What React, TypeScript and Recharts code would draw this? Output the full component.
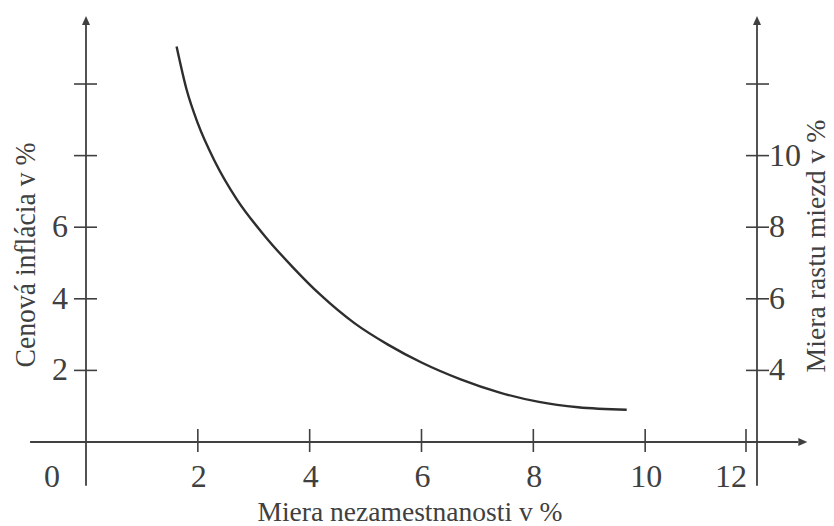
import React from 'react';
import { LineChart, Line, XAxis, YAxis, ReferenceLine } from 'recharts';

// Phillips curve: unemployment (x) vs price inflation (left) / wage growth (right)
const unemployment = [
  1.62, 1.8, 2.0, 2.3, 2.7, 3.2, 3.7, 4.2, 4.8, 5.4, 6.0, 6.7, 7.4, 8.1, 8.8, 9.67,
];
const inflation = [
  11.05, 9.84, 8.9, 7.85, 6.77, 5.75, 4.88, 4.1, 3.32, 2.72, 2.22, 1.75, 1.38, 1.12, 0.97, 0.9,
];

const xTicks = [0, 2, 4, 6, 8, 10, 12];
const inflationTicks = [2, 4, 6, 8, 10];
const inflationLabels = ['2', '4', '6', '', ''];
const wageTicks = [4, 6, 8, 10, 12];
const wageLabels = ['4', '6', '8', '10', ''];

const xTitle = 'Miera nezamestnanosti v %';
const leftTitle = 'Cenová inflácia v %';
const rightTitle = 'Miera rastu miezd v %';

const curve = unemployment.map((u, i) => ({ u, p: inflation[i] }));

const INK = '#404040';
const FONT = 'Liberation Serif';

const AxisArrow = (props: any) => {
  const { x1, y1, x2, y2 } = props;
  const dx = x2 - x1;
  const dy = y2 - y1;
  const len = Math.hypot(dx, dy) || 1;
  const ux = dx / len;
  const uy = dy / len;
  const L = 9;
  const W = 4;
  const bx = x2 - ux * L;
  const by = y2 - uy * L;
  return (
    <g>
      <line x1={x1} y1={y1} x2={bx} y2={by} stroke={INK} strokeWidth={1.8} />
      <polygon
        points={`${x2},${y2} ${bx - uy * W},${by + ux * W} ${bx + uy * W},${by - ux * W}`}
        fill={INK}
      />
    </g>
  );
};

const XTick = ({ x, y, payload }: any) => {
  const v = payload.value;
  const textProps = { fontFamily: FONT, fontSize: 32, fill: INK, textAnchor: 'middle' as const };
  if (v === 0) {
    return <text x={x - 34} y={y + 45} {...textProps}>0</text>;
  }
  // the last tick sits just left of the right-hand axis
  const shift = v === 12 ? -11 : 0;
  const labelShift = v === 12 ? -15 : 1;
  return (
    <g>
      <line x1={x + shift} x2={x + shift} y1={y - 13} y2={y + 10} stroke={INK} strokeWidth={1.6} />
      <text x={x + shift + labelShift} y={y + 45} {...textProps}>{v}</text>
    </g>
  );
};

const LeftTick = ({ x, y, payload }: any) => {
  const label = inflationLabels[inflationTicks.indexOf(payload.value)];
  return (
    <g>
      <line x1={x - 12} x2={x + 11} y1={y} y2={y} stroke={INK} strokeWidth={1.6} />
      <text x={x - 18} y={y + 10} textAnchor="end" fontFamily={FONT} fontSize={32} fill={INK}>
        {label}
      </text>
    </g>
  );
};

const RightTick = ({ x, y, payload }: any) => {
  const label = wageLabels[wageTicks.indexOf(payload.value)];
  return (
    <g>
      <line x1={x - 11} x2={x + 12} y1={y} y2={y} stroke={INK} strokeWidth={1.6} />
      <text x={x + 12} y={y + 10} textAnchor="start" fontFamily={FONT} fontSize={32} fill={INK}>
        {label}
      </text>
    </g>
  );
};

export default function App() {
  return (
    <div style={{ position: 'absolute', left: 0, top: 0, background: '#fff' }}>
      <LineChart
        width={834}
        height={526}
        data={curve}
        margin={{ top: 16, right: 17, bottom: 54, left: 26 }}
      >
        <XAxis
          dataKey="u"
          type="number"
          domain={[0, 12]}
          allowDataOverflow
          ticks={xTicks}
          interval={0}
          axisLine={false}
          tickLine={false}
          tickSize={0}
          tickMargin={0}
          tick={(p: any) => <XTick {...p} />}
        />
        <YAxis
          type="number"
          domain={[0, 11.9]}
          allowDataOverflow
          ticks={inflationTicks}
          interval={0}
          axisLine={false}
          tickLine={false}
          tickSize={0}
          tickMargin={0}
          width={60}
          tick={(p: any) => <LeftTick {...p} />}
        />
        <YAxis
          yAxisId="wage"
          orientation="right"
          type="number"
          domain={[2, 13.9]}
          allowDataOverflow
          ticks={wageTicks}
          interval={0}
          axisLine={false}
          tickLine={false}
          tickSize={0}
          tickMargin={0}
          width={60}
          tick={(p: any) => <RightTick {...p} />}
        />
        <ReferenceLine
          segment={[{ x: -1, y: 0 }, { x: 12.9, y: 0 }]}
          ifOverflow="visible"
          shape={(p: any) => <AxisArrow {...p} />}
        />
        <ReferenceLine
          segment={[{ x: 0, y: -1.22 }, { x: 0, y: 11.9 }]}
          ifOverflow="visible"
          shape={(p: any) => <AxisArrow {...p} />}
        />
        <ReferenceLine
          segment={[{ x: 12, y: -1.22 }, { x: 12, y: 11.9 }]}
          ifOverflow="visible"
          shape={(p: any) => <AxisArrow {...p} />}
        />
        <Line
          dataKey="p"
          type="monotone"
          stroke="#2e2e2e"
          strokeWidth={2.4}
          dot={false}
          activeDot={false}
          isAnimationActive={false}
        />
        <text
          x={35}
          y={255}
          transform="rotate(-90 35 255)"
          textAnchor="middle"
          fontFamily={FONT}
          fontSize={29}
          fill={INK}
          textLength={225}
          lengthAdjust="spacingAndGlyphs"
        >
          {leftTitle}
        </text>
        <text
          x={825}
          y={246}
          transform="rotate(-90 825 246)"
          textAnchor="middle"
          fontFamily={FONT}
          fontSize={28}
          fill={INK}
          textLength={253}
          lengthAdjust="spacingAndGlyphs"
        >
          {rightTitle}
        </text>
        <text
          x={410}
          y={521}
          textAnchor="middle"
          fontFamily={FONT}
          fontSize={28}
          fill={INK}
          textLength={305}
          lengthAdjust="spacingAndGlyphs"
        >
          {xTitle}
        </text>
      </LineChart>
    </div>
  );
}
